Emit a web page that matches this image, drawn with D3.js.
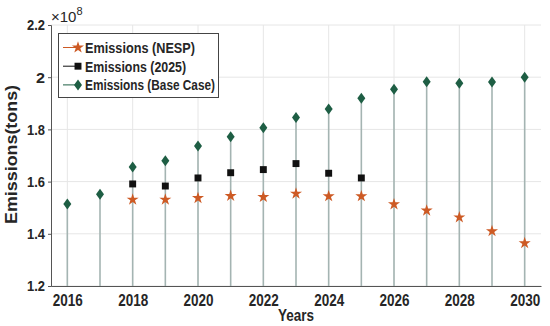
<!DOCTYPE html>
<html>
	<head>
		<meta charset="utf-8">
		<title>Emissions</title>
		<script src="https://cdn.jsdelivr.net/npm/d3@7"></script>
		<style>
			body { margin: 0; background: #fff; }
			text { font-family: 'Liberation Sans', Arial, sans-serif; font-weight: bold; fill: #262626; }
		</style>
	</head>
	<body>
		<div id='viz'></div>
		<script>
			var width = 550,
				height = 326;
			// years and values (x 1e8 tons)
			var years = [2016,2017,2018,2019,2020,2021,2022,2023,2024,2025,2026,2027,2028,2029,2030];
			var baseCase = [1.514,1.552,1.656,1.68,1.736,1.772,1.806,1.846,1.878,1.919,1.954,1.983,1.977,1.982,2.0];
			var years2025 = [2018,2019,2020,2021,2022,2023,2024,2025];
			var emis2025 = [1.591,1.583,1.614,1.634,1.646,1.669,1.632,1.614];
			var yearsNesp = [2018,2019,2020,2021,2022,2023,2024,2025,2026,2027,2028,2029,2030];
			var nesp = [1.531,1.531,1.537,1.545,1.541,1.554,1.544,1.544,1.513,1.489,1.463,1.41,1.364];
			var xTicks = [2016,2018,2020,2022,2024,2026,2028,2030];
			var yTicks = [1.2,1.4,1.6,1.8,2,2.2];
			var legendNames = ['Emissions (NESP)','Emissions (2025)','Emissions (Base Case)'];

			var orange = '#cd5a24', black = '#111', green = '#1e5e44', stemColor = '#a4b4b2';

			var svg = d3.select('#viz').append('svg')
				.attr('width', width)
				.attr('height', height);

			var x = d3.scaleLinear().domain([2015.5, 2030.5]).range([51, 541]);
			var y = d3.scaleLinear().domain([1.2, 2.2]).range([286, 25]);

			// grid
			svg.append('g').selectAll('line').data(xTicks).join('line')
				.attr('x1', d => x(d)).attr('x2', d => x(d))
				.attr('y1', y(1.2)).attr('y2', y(2.2))
				.attr('stroke', '#e6e6e6').attr('stroke-width', 1);
			svg.append('g').selectAll('line').data(yTicks).join('line')
				.attr('x1', x(2015.5)).attr('x2', x(2030.5))
				.attr('y1', d => y(d)).attr('y2', d => y(d))
				.attr('stroke', '#e6e6e6').attr('stroke-width', 1);

			// axes
			var xAxis = svg.append('g')
				.attr('transform', `translate(0,${y(1.2)})`)
				.call(d3.axisBottom(x).tickValues(xTicks).tickFormat(d3.format('d')).tickSize(0).tickPadding(9));
			var yAxis = svg.append('g')
				.attr('transform', `translate(${x(2015.5)},0)`)
				.call(d3.axisLeft(y).tickValues(yTicks).tickFormat(d => d3.format('.1f')(d).replace('2.0','2')).tickSize(3).tickPadding(3));
			[xAxis, yAxis].forEach(a => {
				a.selectAll('.domain').attr('stroke', '#555').attr('stroke-width', 1);
				a.selectAll('.tick line').attr('stroke', '#555');
				a.selectAll('text').style('font-family', "'Liberation Sans', Arial, sans-serif")
					.attr('font-weight', 'bold').attr('fill', '#262626')
					.attr('lengthAdjust', 'spacingAndGlyphs');
			});
			xAxis.selectAll('text').attr('font-size', 16).attr('textLength', 30);
			yAxis.selectAll('text').attr('font-size', 15)
				.attr('textLength', function() { return this.textContent.length === 1 ? 9 : 18; });

			// stems
			svg.append('g').selectAll('line').data(years).join('line')
				.attr('x1', d => x(d)).attr('x2', d => x(d))
				.attr('y1', y(1.2)).attr('y2', (d, i) => y(baseCase[i]))
				.attr('stroke', stemColor).attr('stroke-width', 1.6);

			var star = d3.symbol().type(d3.symbolStar).size(45)();
			var square = d3.symbol().type(d3.symbolSquare).size(48)();
			var diamond = 'M0,-5.5L4,0L0,5.5L-4,0Z';

			svg.append('g').selectAll('path').data(yearsNesp).join('path')
				.attr('transform', (d, i) => `translate(${x(d)},${y(nesp[i])})`)
				.attr('d', star).attr('fill', orange);
			svg.append('g').selectAll('path').data(years2025).join('path')
				.attr('transform', (d, i) => `translate(${x(d)},${y(emis2025[i])})`)
				.attr('d', square).attr('fill', black);
			svg.append('g').selectAll('path').data(years).join('path')
				.attr('transform', (d, i) => `translate(${x(d)},${y(baseCase[i])})`)
				.attr('d', diamond).attr('fill', green);

			// exponent
			var ex = svg.append('text').attr('x', 51).attr('y', 22).attr('font-size', 15).style('font-weight', 'normal');
			ex.append('tspan').text('×10');
			ex.append('tspan').attr('font-size', 11).attr('dy', -7).text('8');

			// axis labels
			svg.append('text').attr('x', x(2023)).attr('y', 321).attr('text-anchor', 'middle')
				.attr('font-size', 16).attr('textLength', 36).attr('lengthAdjust', 'spacingAndGlyphs').text('Years');
			svg.append('text').attr('transform', `translate(17,${y(1.704)}) rotate(-90)`).attr('text-anchor', 'middle')
				.attr('font-size', 17).attr('textLength', 139).attr('lengthAdjust', 'spacingAndGlyphs').text('Emissions(tons)');

			// legend
			var lg = svg.append('g');
			lg.append('rect').attr('x', 58.5).attr('y', 33.5).attr('width', 160).attr('height', 64)
				.attr('fill', '#fff').attr('stroke', '#444').attr('stroke-width', 1);
			var legColors = [orange, black, green];
			var legSyms = [star, square, diamond];
			var row = lg.selectAll('g.row').data(legendNames).join('g')
				.attr('transform', (d, i) => `translate(0,${47.5 + i * 18.7})`);
			row.append('line').attr('x1', 63).attr('x2', 80).attr('stroke', (d, i) => legColors[i]).attr('stroke-width', 1);
			row.append('path').attr('transform', 'translate(78,0)').attr('d', (d, i) => legSyms[i]).attr('fill', (d, i) => legColors[i]);
			row.append('text').attr('x', 85).attr('dy', '0.36em').attr('font-size', 15)
				.attr('textLength', (d, i) => [110, 101, 130][i]).attr('lengthAdjust', 'spacingAndGlyphs')
				.text(d => d);
		</script>
	</body>
</html>
